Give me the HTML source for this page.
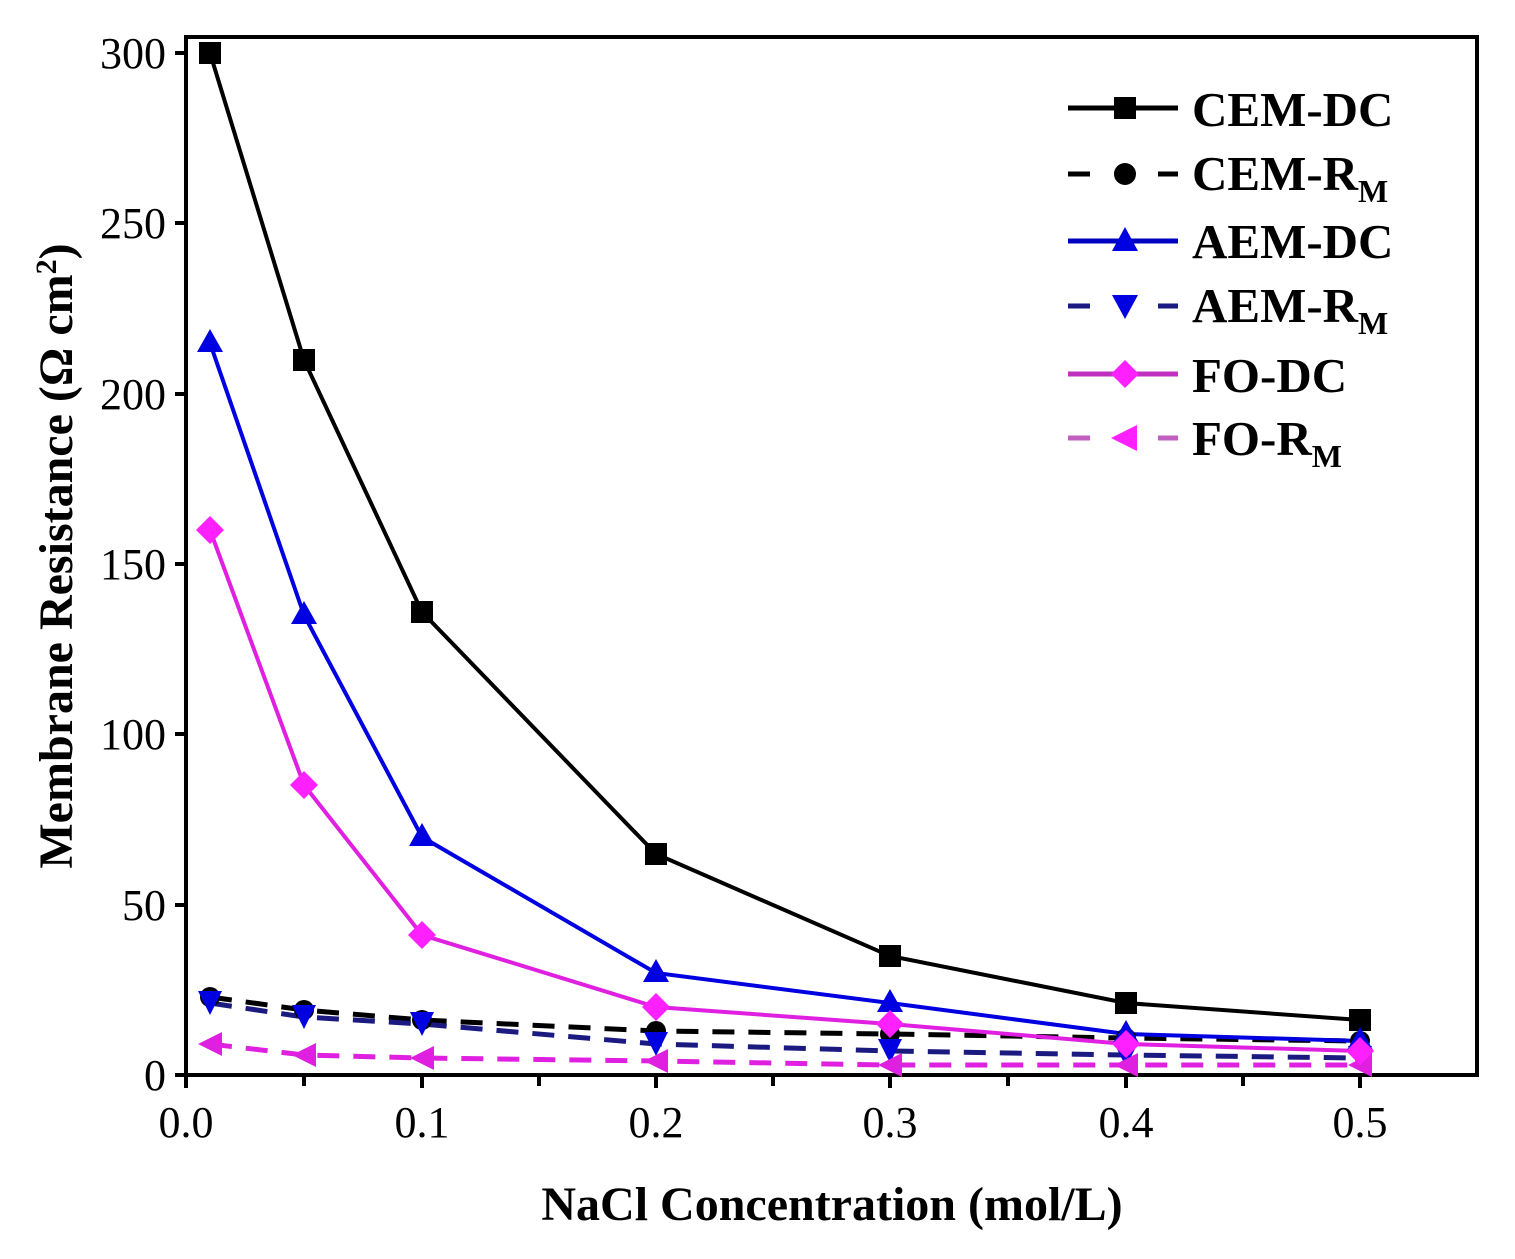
<!DOCTYPE html>
<html><head><style>body{margin:0;background:#fff}svg{display:block}</style></head><body>
<svg width="1515" height="1259" xmlns="http://www.w3.org/2000/svg" font-family="Liberation Serif, serif">
<rect width="1515" height="1259" fill="#fff"/>
<g stroke="#000" stroke-width="4" fill="none">
<rect x="186" y="37" width="1291" height="1038"/>
<line x1="304" y1="1075" x2="304" y2="1086"/><line x1="539" y1="1075" x2="539" y2="1086"/><line x1="773" y1="1075" x2="773" y2="1086"/><line x1="1008" y1="1075" x2="1008" y2="1086"/><line x1="1243" y1="1075" x2="1243" y2="1086"/>
<line x1="186" y1="1075" x2="186" y2="1088"/><line x1="422" y1="1075" x2="422" y2="1088"/><line x1="656" y1="1075" x2="656" y2="1088"/><line x1="890" y1="1075" x2="890" y2="1088"/><line x1="1126" y1="1075" x2="1126" y2="1088"/><line x1="1360" y1="1075" x2="1360" y2="1088"/>
<line x1="175" y1="1075" x2="186" y2="1075"/><line x1="175" y1="905" x2="186" y2="905"/><line x1="175" y1="734" x2="186" y2="734"/><line x1="175" y1="564" x2="186" y2="564"/><line x1="175" y1="394" x2="186" y2="394"/><line x1="175" y1="223" x2="186" y2="223"/><line x1="175" y1="53" x2="186" y2="53"/>
</g>
<g font-size="44" text-anchor="end">
<text x="166" y="1090">0</text><text x="166" y="920">50</text><text x="166" y="749">100</text><text x="166" y="579">150</text><text x="166" y="409">200</text><text x="166" y="238">250</text><text x="166" y="68">300</text>
</g>
<g font-size="44" text-anchor="middle">
<text x="186" y="1137">0.0</text><text x="422" y="1137">0.1</text><text x="656" y="1137">0.2</text><text x="890" y="1137">0.3</text><text x="1126" y="1137">0.4</text><text x="1360" y="1137">0.5</text>
</g>
<text x="832" y="1220" font-size="48" font-weight="bold" text-anchor="middle">NaCl Concentration (mol/L)</text>
<text transform="translate(72,556) rotate(-90)" font-size="48" font-weight="bold" text-anchor="middle">Membrane Resistance (Ω cm<tspan dy="-16" font-size="30">2</tspan><tspan dy="16">)</tspan></text>

<polyline fill="none" stroke="#000" stroke-width="5" stroke-dasharray="22,14" points="210,997 304,1010 422,1020 656,1031 890,1034 1126,1038 1360,1041"/>
<polyline fill="none" stroke="#1a1a80" stroke-width="5" stroke-dasharray="22,14" points="210,1003 304,1017 422,1024 656,1044 890,1051 1126,1055 1360,1058"/>
<polyline fill="none" stroke="#e020e0" stroke-width="5" stroke-dasharray="22,14" points="210,1044 304,1055 422,1058 656,1061 890,1065 1126,1065 1360,1065"/>
<polyline fill="none" stroke="#000" stroke-width="4" points="210,53 304,360 422,612 656,854 890,956 1126,1003 1360,1020"/>
<polyline fill="none" stroke="#0000e0" stroke-width="4" points="210,343 304,615 422,837 656,973 890,1003 1126,1034 1360,1041"/>
<polyline fill="none" stroke="#e020e0" stroke-width="4" points="210,530 304,785 422,935 656,1007 890,1024 1126,1044 1360,1051"/>

<g fill="#000">
<circle cx="210" cy="997" r="10"/><circle cx="304" cy="1010" r="10"/><circle cx="422" cy="1020" r="10"/><circle cx="656" cy="1031" r="10"/><circle cx="890" cy="1034" r="10"/><circle cx="1126" cy="1038" r="10"/><circle cx="1360" cy="1041" r="10"/>
</g>
<path fill="#0000e0" d="M198,991h24l-12,24z M292,1005h24l-12,24z M410,1012h24l-12,24z M644,1032h24l-12,24z M878,1039h24l-12,24z M1114,1043h24l-12,24z M1348,1046h24l-12,24z"/>
<path fill="#e020e0" d="M198,1044l24,-12v24z M292,1055l24,-12v24z M410,1058l24,-12v24z M644,1061l24,-12v24z M878,1065l24,-12v24z M1114,1065l24,-12v24z M1348,1065l24,-12v24z"/>
<g fill="#000">
<rect x="199" y="42" width="22" height="22"/><rect x="293" y="349" width="22" height="22"/><rect x="411" y="601" width="22" height="22"/><rect x="645" y="843" width="22" height="22"/><rect x="879" y="945" width="22" height="22"/><rect x="1115" y="992" width="22" height="22"/><rect x="1349" y="1009" width="22" height="22"/>
</g>
<path fill="#0000e0" d="M210,329l13,23h-26z M304,601l13,23h-26z M422,823l13,23h-26z M656,959l13,23h-26z M890,989l13,23h-26z M1126,1020l13,23h-26z M1360,1027l13,23h-26z"/>
<path fill="#ff20ff" d="M210,516l14,14l-14,14l-14,-14z M304,771l14,14l-14,14l-14,-14z M422,921l14,14l-14,14l-14,-14z M656,993l14,14l-14,14l-14,-14z M890,1010l14,14l-14,14l-14,-14z M1126,1030l14,14l-14,14l-14,-14z M1360,1037l14,14l-14,14l-14,-14z"/>

<g stroke-width="5">
<line x1="1068" y1="108" x2="1178" y2="108" stroke="#000"/>
<line x1="1068" y1="174" x2="1090" y2="174" stroke="#000"/><line x1="1158" y1="174" x2="1178" y2="174" stroke="#000"/>
<line x1="1068" y1="241" x2="1178" y2="241" stroke="#0000c0"/>
<line x1="1068" y1="306" x2="1090" y2="306" stroke="#1a1a80"/><line x1="1158" y1="306" x2="1178" y2="306" stroke="#1a1a80"/>
<line x1="1068" y1="374" x2="1178" y2="374" stroke="#c030c0"/>
<line x1="1068" y1="438" x2="1090" y2="438" stroke="#c060c0"/><line x1="1158" y1="438" x2="1178" y2="438" stroke="#c060c0"/>
</g>
<rect x="1114" y="97" width="22" height="22" fill="#000"/>
<circle cx="1125" cy="174" r="11" fill="#000"/>
<path d="M1125,227l13,24h-26z" fill="#0000e0"/>
<path d="M1112,295h26l-13,24z" fill="#0000e0"/>
<path d="M1125,360l14,14l-14,14l-14,-14z" fill="#ff20ff"/>
<path d="M1111,438l26,-13v26z" fill="#ff20ff"/>
<g font-size="49" font-weight="bold">
<text x="1192" y="126">CEM-DC</text>
<text x="1192" y="190">CEM-R<tspan dy="12" font-size="32">M</tspan></text>
<text x="1192" y="258">AEM-DC</text>
<text x="1192" y="322">AEM-R<tspan dy="12" font-size="32">M</tspan></text>
<text x="1192" y="392">FO-DC</text>
<text x="1192" y="455">FO-R<tspan dy="12" font-size="32">M</tspan></text>
</g>
</svg>
</body></html>
